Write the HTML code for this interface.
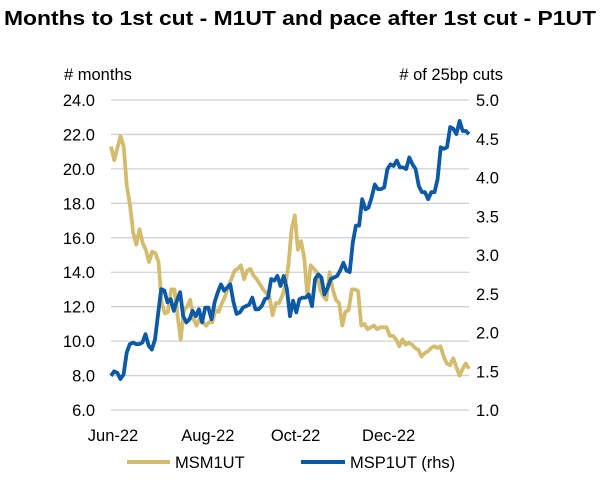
<!DOCTYPE html>
<html><head><meta charset="utf-8"><style>
body{margin:0;background:#fff;font-family:"Liberation Sans",Arial,sans-serif}
svg text{font-family:"Liberation Sans",Arial,sans-serif}
</style></head><body>
<svg width="604" height="477" viewBox="0 0 604 477">
<text x="4" y="25" font-size="20" font-weight="bold" fill="#000" textLength="592" lengthAdjust="spacingAndGlyphs">Months to 1st cut - M1UT and pace after 1st cut - P1UT</text>
<text x="64" y="80" font-size="16.5" fill="#000"># months</text>
<text x="503" y="80" font-size="16.5" fill="#000" text-anchor="end"># of 25bp cuts</text>
<g id="grid"></g><g id="lt"></g><g id="rt"></g><g id="xt"></g><g id="series"></g>
<g>
<line x1="127" y1="462" x2="170" y2="462" stroke="#D4BC6E" stroke-width="4"/>
<text x="175" y="468" font-size="16.5">MSM1UT</text>
<line x1="301" y1="462" x2="345" y2="462" stroke="#0C5AA6" stroke-width="4"/>
<text x="350" y="468" font-size="16.5">MSP1UT (rhs)</text>
</g>
</svg>
<script>
const leftTicks=[6,8,10,12,14,16,18,20,22,24];
const rightTicks=[1.0,1.5,2.0,2.5,3.0,3.5,4.0,4.5,5.0];
const xLabels=["Jun-22","Aug-22","Oct-22","Dec-22"];
const xLabelPos=[0,0.265,0.51,0.77];
const msm1ut=[21.3,20.5,21.2,21.9,21.3,19.0,17.9,16.3,15.6,16.5,15.7,15.3,14.6,15.2,15.1,14.6,12.2,11.6,11.7,13.0,13.0,11.5,10.1,11.8,12.0,12.4,11.3,10.9,11.3,11.1,10.9,11.1,11.1,11.8,11.7,12.2,12.6,13.2,13.6,14.1,14.2,14.4,13.6,14.1,14.2,13.8,13.6,13.3,13.0,12.8,12.6,11.5,12.2,12.2,12.6,13.2,14.4,16.5,17.3,15.3,15.8,14.8,12.6,14.4,14.2,14.0,13.0,12.6,12.4,14.0,13.0,12.4,12.2,10.9,11.7,11.8,13.0,13.0,12.9,10.9,11.0,10.7,10.8,10.9,10.7,10.8,10.8,10.8,10.3,10.3,10.1,9.7,10.1,9.8,9.9,9.8,9.6,9.5,9.1,9.3,9.4,9.6,9.7,9.6,9.7,9.1,8.7,8.6,9.0,8.5,8.0,8.4,8.7,8.4];
const msp1ut=[1.44,1.50,1.48,1.40,1.46,1.74,1.85,1.87,1.85,1.85,1.87,1.98,1.83,1.78,1.91,2.24,2.56,2.54,2.39,2.43,2.28,2.41,2.52,2.21,2.13,2.17,2.28,2.21,2.30,2.13,2.32,2.32,2.17,2.39,2.52,2.62,2.54,2.58,2.62,2.39,2.24,2.26,2.32,2.34,2.36,2.45,2.30,2.30,2.34,2.43,2.45,2.69,2.67,2.73,2.60,2.73,2.56,2.21,2.41,2.26,2.43,2.45,2.45,2.49,2.34,2.69,2.75,2.71,2.49,2.58,2.69,2.71,2.73,2.80,2.90,2.80,2.78,3.16,3.38,3.38,3.72,3.59,3.61,3.74,3.91,3.85,3.85,3.87,4.11,4.17,4.15,4.22,4.13,4.13,4.11,4.26,4.17,4.11,3.89,3.81,3.81,3.72,3.81,3.81,3.98,4.39,4.37,4.39,4.65,4.63,4.56,4.73,4.60,4.60,4.56];
const X0=111,X1=469,Y0=410,Y1=100;
const yL=v=>Y0-(v-6)/18*(Y0-Y1);
const yR=v=>Y0-(v-1)/4*(Y0-Y1);
const NS='http://www.w3.org/2000/svg';
function mk(t,a,p){const e=document.createElementNS(NS,t);for(const k in a)e.setAttribute(k,a[k]);p.appendChild(e);return e;}
const grid=document.getElementById('grid'),lt=document.getElementById('lt'),rt=document.getElementById('rt'),xt=document.getElementById('xt'),ser=document.getElementById('series');
leftTicks.forEach(v=>{const y=yL(v);
 const g=mk('line',{x1:X0,x2:X1,y1:y,y2:y,stroke:'#d0d0d0','stroke-width':1.3},grid);
 
 
 const t=mk('text',{x:95,y:y+6,'font-size':16.5,'text-anchor':'end'},lt);t.textContent=v.toFixed(1);
 
 });
rightTicks.forEach(v=>{const y=yR(v);
 const t=mk('text',{x:476,y:y+6,'font-size':16.5},rt);t.textContent=v.toFixed(1);
 
 });
xLabels.forEach((l,i)=>{const x=X0+xLabelPos[i]*(X1-X0);
 const t=mk('text',{x:x+2,y:441,'font-size':16.5,'text-anchor':'middle'},xt);t.textContent=l;
 
 });
function line(arr,fy,col,name){const n=arr.length;
 const d=arr.map((v,i)=>(i?'L':'M')+(X0+i/(n-1)*(X1-X0)).toFixed(1)+','+fy(v).toFixed(1)).join('');
 const p=mk('path',{d:d,fill:'none',stroke:col,'stroke-width':3.8,'stroke-linejoin':'round'},ser);
 
 }
line(msm1ut,yL,'#D4BC6E','msm1ut-line');
line(msp1ut,yR,'#0C5AA6','msp1ut-line');
</script>
</body></html>
